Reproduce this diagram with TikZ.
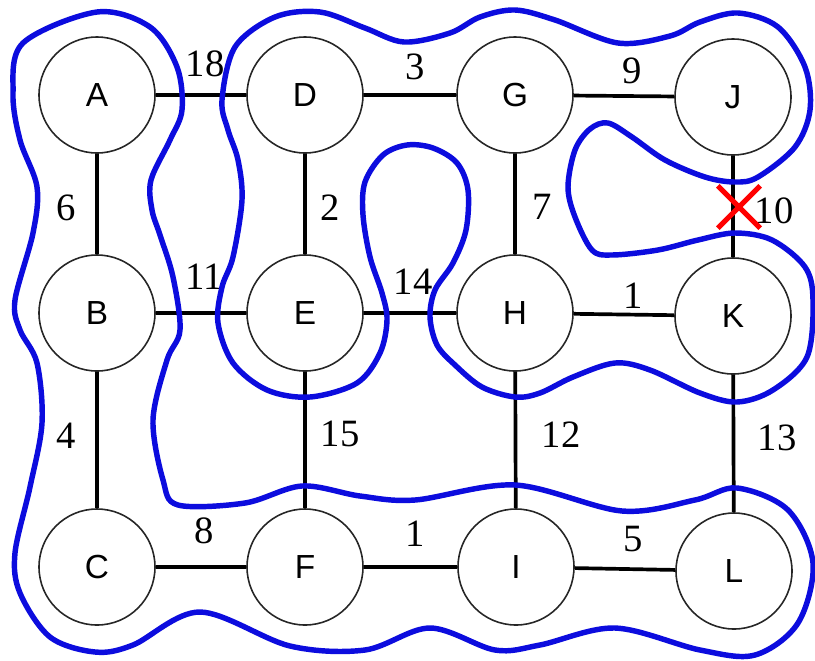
\documentclass[tikz,border=0pt]{standalone}
\usepackage{fontspec}
\setmainfont{Liberation Serif}
\newfontfamily\vertexfont{Liberation Sans}
\usetikzlibrary{shapes.misc}
\definecolor{loopblue}{RGB}{12,12,222}

\begin{document}
\begin{tikzpicture}[
        x=0.2mm, y=-0.2mm,
        vertex/.style={circle, draw=black!85, line width=0.9pt, fill=white, minimum size=23.2mm, inner sep=0pt, font=\vertexfont\fontsize{19}{22}\selectfont},
        edge/.style={draw, line width=2.1pt},
        weight/.style={inner sep=0pt, font=\fontsize{22}{25}\selectfont},
        cluster/.style={draw=loopblue, line width=3.1pt},
        cut/.style={cross out, draw=red, line width=3pt, minimum size=7.4mm, inner sep=0pt}
    ]
        \useasboundingbox[fill=white] (0,0) rectangle (815,660);

        % Vertices
        \node[vertex] (A) at (97, 95) {A};
        \node[vertex] (D) at (305, 95) {D};
        \node[vertex] (G) at (515, 95) {G};
        \node[vertex] (J) at (733, 97) {J};
        \node[vertex] (B) at (97, 313) {B};
        \node[vertex] (E) at (305, 313) {E};
        \node[vertex] (H) at (515, 313) {H};
        \node[vertex] (K) at (733, 316) {K};
        \node[vertex] (C) at (97, 567) {C};
        \node[vertex] (F) at (305, 567) {F};
        \node[vertex] (I) at (516, 567) {I};
        \node[vertex] (L) at (734, 571) {L};

        % Edges
        \draw[edge] (A) -- (D);
        \draw[edge] (D) -- (G);
        \draw[edge] (G) -- (J);
        \draw[edge] (A) -- (B);
        \draw[edge] (D) -- (E);
        \draw[edge] (G) -- (H);
        \draw[edge] (J) -- (K);
        \draw[edge] (B) -- (E);
        \draw[edge] (E) -- (H);
        \draw[edge] (H) -- (K);
        \draw[edge] (B) -- (C);
        \draw[edge] (E) -- (F);
        \draw[edge] (H) -- (I);
        \draw[edge] (K) -- (L);
        \draw[edge] (C) -- (F);
        \draw[edge] (F) -- (I);
        \draw[edge] (I) -- (L);

        % Weights
        \node[weight] (wAD) at (205, 64) {18};
        \node[weight] (wDG) at (415, 67) {3};
        \node[weight] (wGJ) at (632, 71) {9};
        \node[weight] (wAB) at (66, 208) {6};
        \node[weight] (wDE) at (330, 208) {2};
        \node[weight] (wGH) at (542, 207) {7};
        \node[weight] (wJK) at (774, 211) {10};
        \node[weight] (wBE) at (204, 277) {11};
        \node[weight] (wEH) at (413, 282) {14};
        \node[weight] (wHK) at (633, 296) {1};
        \node[weight] (wBC) at (66, 436) {4};
        \node[weight] (wEF) at (340, 434) {15};
        \node[weight] (wHI) at (561, 435) {12};
        \node[weight] (wKL) at (777, 438) {13};
        \node[weight] (wCF) at (204, 531) {8};
        \node[weight] (wFI) at (415, 534) {1};
        \node[weight] (wIL) at (633, 539) {5};

        % Removed edge
        \node[cut] (x) at (739, 207) {};

        % Clusters
        \draw[cluster] plot[smooth cycle, tension=0.55] coordinates {
            (97,12) (150,27) (177,67) (182,110) (170,140) (151,180) (152,210)
            (160,235) (173,277) (180,330) (167,360) (153,420) (163,480) (178,505)
            (245,503) (302,486) (360,496) (415,500) (515,485) (622,511) (695,500)
            (737,488) (788,510) (813,563) (798,623) (755,655) (700,650) (615,628)
            (540,645) (495,650) (430,628) (365,650) (290,646) (200,612) (133,645)
            (95,652) (50,637) (20,593) (15,553) (30,487) (42,423) (37,363)
            (20,330) (15,300) (33,233) (37,187) (20,140) (13,93) (23,43)};
        \draw[cluster] plot[smooth cycle, tension=0.55] coordinates {
            (222,100) (235,47) (275,17) (320,12) (365,28) (404,42) (450,33)
            (480,17) (515,10) (555,20) (618,43) (670,36) (700,22)
            (738,13) (778,27) (805,67) (810,110) (795,147) (758,177) (735,182)
            (705,177) (665,160) (632,137) (608,123) (590,129) (575,150) (568,187)
            (575,217) (592,250) (612,255) (658,250) (698,240) (735,233) (772,240)
            (805,267) (813,300) (807,357) (773,390) (737,402) (700,393) (650,370)
            (615,363) (573,377) (540,393) (515,397) (482,387) (455,365) (437,345)
            (430,317) (435,290) (453,263) (466,230) (468,190) (457,163) (433,148)
            (407,145) (383,155) (365,182) (363,215) (370,257) (382,293) (387,320)
            (380,353) (357,383) (310,397) (267,390) (233,363) (218,323) (222,287)
            (233,257) (242,200) (238,160) (228,130)};
    \end{tikzpicture}
\end{document}
